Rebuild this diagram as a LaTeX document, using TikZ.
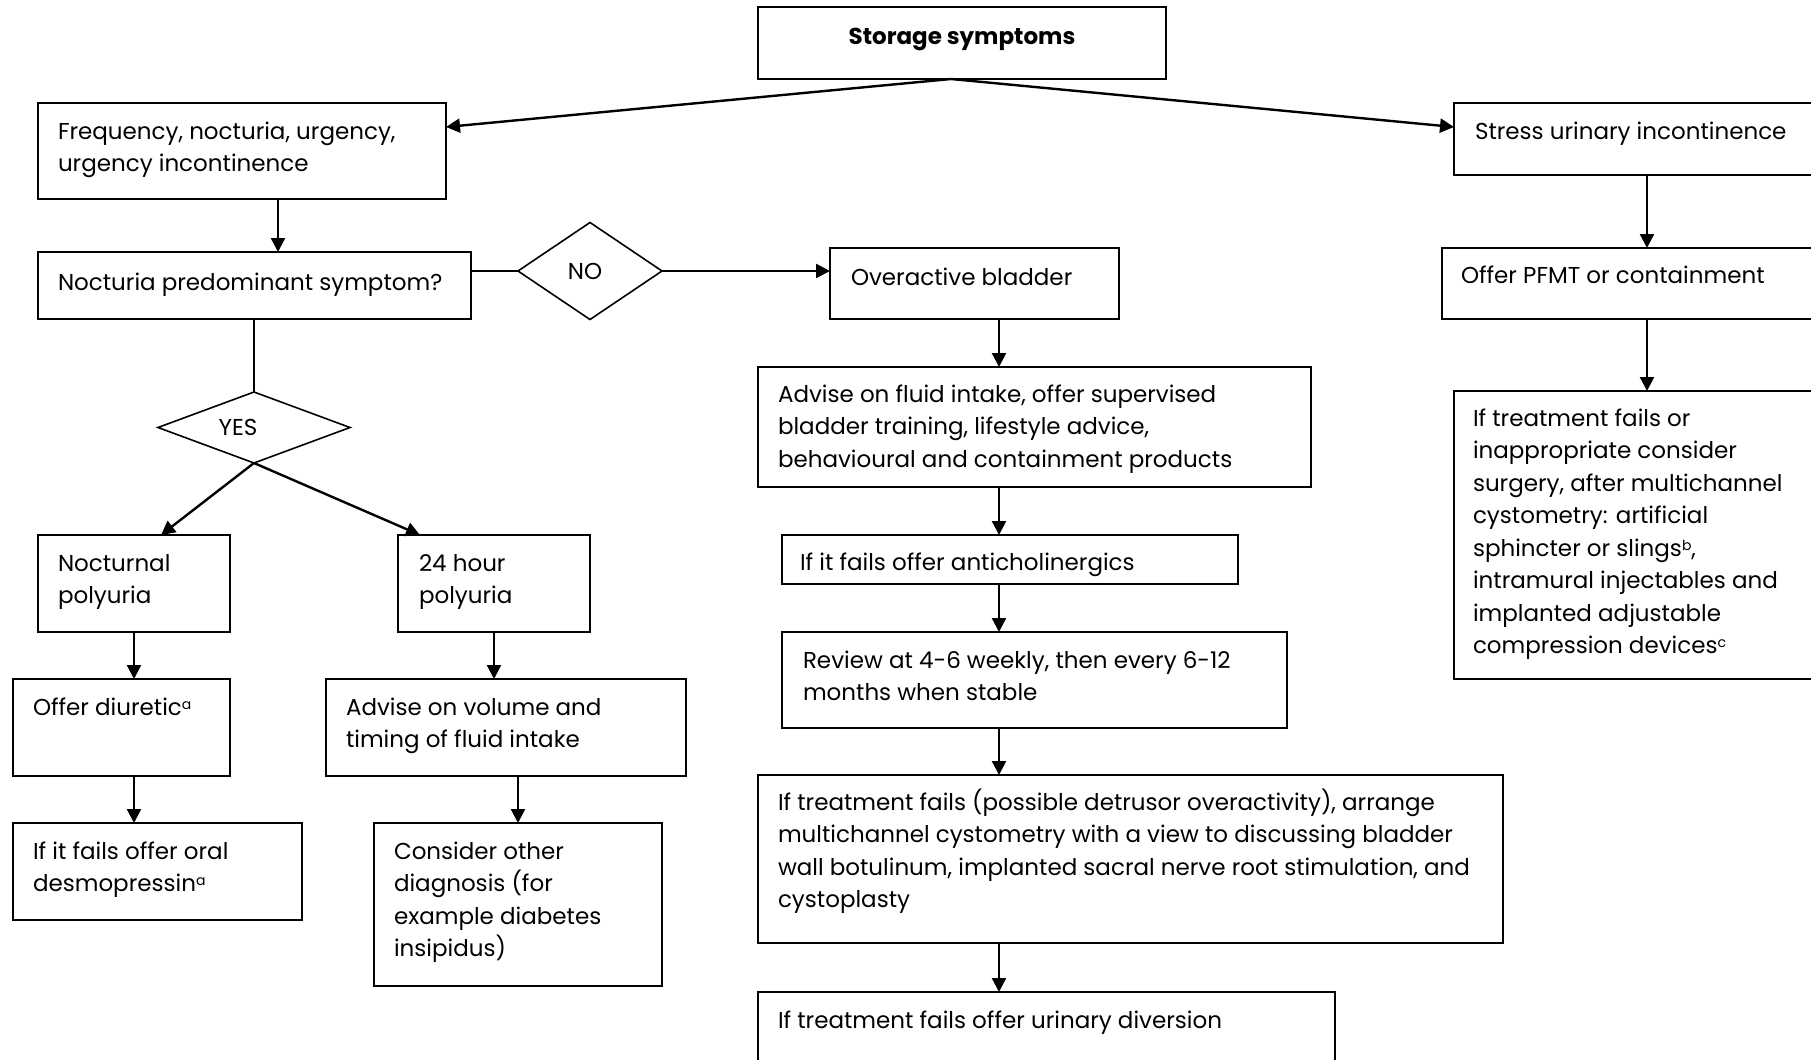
\documentclass[tikz,border=0pt]{standalone}
\usepackage{fontspec}
\setmainfont{Poppins}
\usetikzlibrary{arrows.meta,shapes.geometric,calc}
\newcommand\bx[8]{%
  \node[boxst, anchor=north west] (#1) at (#2,#3)
  {\parbox[c][\dimexpr#5pt/2\relax][t]{\dimexpr#4pt/2\relax}{\leftskip=\dimexpr#6pt/2\relax\rightskip=0pt plus 1fil\parfillskip=0pt plus 1fil\rule{0pt}{\dimexpr#7pt/2\relax}#8}};}
\newcommand\supmark[1]{\raisebox{0.45ex}{\fontsize{7}{7}\selectfont #1}}
\begin{document}
\begin{tikzpicture}[x=0.5pt,y=-0.5pt,
  every node/.style={font=\fontsize{11.5}{16.25}\selectfont},
  boxst/.style={draw, line width=1pt, inner sep=0pt, outer sep=0pt},
  dia/.style={draw, diamond, line width=0.8pt, inner sep=0pt, outer sep=0pt},
  arr/.style={line width=1.2pt, -{Triangle[length=7pt,width=7pt]}},
  ln/.style={line width=1.2pt},
  thin/.style={line width=0.8pt}]
\useasboundingbox (0,0) rectangle (1811,1060);
\clip (0,0) rectangle (1811,1060);
% top
\node[boxst, anchor=north west] (st) at (758,7)
  {\parbox[c][36pt][t]{204pt}{\centering\rule{0pt}{19pt}\bfseries Storage symptoms}};
\bx{freq}{38}{103}{408}{96}{20}{36}{Frequency, nocturia, urgency,\\urgency incontinence}
\bx{stress}{1454}{103}{390}{72}{21}{36}{Stress urinary incontinence}
\bx{noct}{38}{252}{433}{67}{20}{38}{Nocturia predominant symptom?}
\node[dia, minimum width=72pt, minimum height=48.5pt] (no) at (590,271) {\hspace*{-5pt}NO};
\bx{ov}{830}{248}{289}{71}{21}{37}{Overactive bladder}
\bx{pfmt}{1442}{248}{400}{71}{19}{35}{Offer PFMT or containment}
\node[dia, minimum width=96pt, minimum height=35.5pt] (yes) at (254,427.5) {\hspace*{-16pt}YES};
% left branch
\bx{nocp}{38}{535}{192}{97}{20}{36}{Nocturnal\\polyuria}
\bx{h24}{398}{535}{192}{97}{21}{36}{24 hour\\polyuria}
\bx{diur}{13}{679}{217}{97}{20}{36}{Offer diuretic\supmark{a}}
\bx{advvol}{326}{679}{360}{97}{20}{36}{Advise on volume and\\timing of fluid intake}
\bx{desm}{13}{823}{289}{97}{20}{36}{If it fails offer oral\\desmopressin\supmark{a}}
\bx{cons}{374}{823}{288}{163}{20}{36}{Consider other\\diagnosis (for\\example diabetes\\insipidus)}
% middle column
\bx{advf}{758}{367}{553}{120}{20}{35}{Advise on fluid intake, offer supervised\\bladder training, lifestyle advice,\\behavioural and containment products}
\bx{anti}{782}{535}{456}{49}{18}{35}{If it fails offer anticholinergics}
\bx{rev}{782}{632}{505}{96}{21}{36}{Review at 4-6 weekly, then every 6-12\\months when stable}
\bx{fail}{758}{775}{745}{168}{20}{35}{If treatment fails (possible detrusor overactivity), arrange\\multichannel cystometry with a view to discussing bladder\\wall botulinum, implanted sacral nerve root stimulation, and\\cystoplasty}
\bx{div}{758}{992}{577}{100}{20}{36}{If treatment fails offer urinary diversion}
% right column
\bx{surg}{1454}{391}{390}{288}{19}{35}{If treatment fails or\\inappropriate consider\\surgery, after multichannel\\cystometry: artificial\\sphincter or slings\supmark{b},\\intramural injectables and\\implanted adjustable\\compression devices\supmark{c}}
% helper coordinates
\coordinate (apex) at ([xshift=-5.5pt]st.south);
\coordinate (mcol) at (999,0);
\coordinate (rcol) at (1647,0);
\coordinate (fcol) at (278,0);
% connectors
\draw[arr] (apex) -- ([yshift=-12pt]freq.north east);
\draw[arr] (apex) -- ([yshift=-12pt]stress.north west);
\draw[arr] (freq.south -| fcol) -- (noct.north -| fcol);
\draw[ln] (no.west -| noct.east) -- (no.west);
\draw[arr] (no.east) -- (no.east -| ov.west);
\draw[thin] (yes.north |- noct.south) -- (yes.north);
\draw[arr] (yes.south) -- ([xshift=61.5pt]nocp.north west);
\draw[arr] (yes.south) -- ([xshift=11pt]h24.north west);
\draw[arr] (nocp.south) -- (nocp.south |- diur.north);
\draw[arr] (nocp.south |- diur.south) -- (nocp.south |- desm.north);
\draw[arr] (h24.south) -- (h24.south |- advvol.north);
\draw[arr] (cons.north |- advvol.south) -- (cons.north);
\draw[arr] (ov.south -| mcol) -- (advf.north -| mcol);
\draw[arr] (advf.south -| mcol) -- (anti.north -| mcol);
\draw[arr] (anti.south -| mcol) -- (rev.north -| mcol);
\draw[arr] (rev.south -| mcol) -- (fail.north -| mcol);
\draw[arr] (fail.south -| mcol) -- (div.north -| mcol);
\draw[arr] (stress.south -| rcol) -- (pfmt.north -| rcol);
\draw[arr] (pfmt.south -| rcol) -- (surg.north -| rcol);
\end{tikzpicture}
\end{document}
